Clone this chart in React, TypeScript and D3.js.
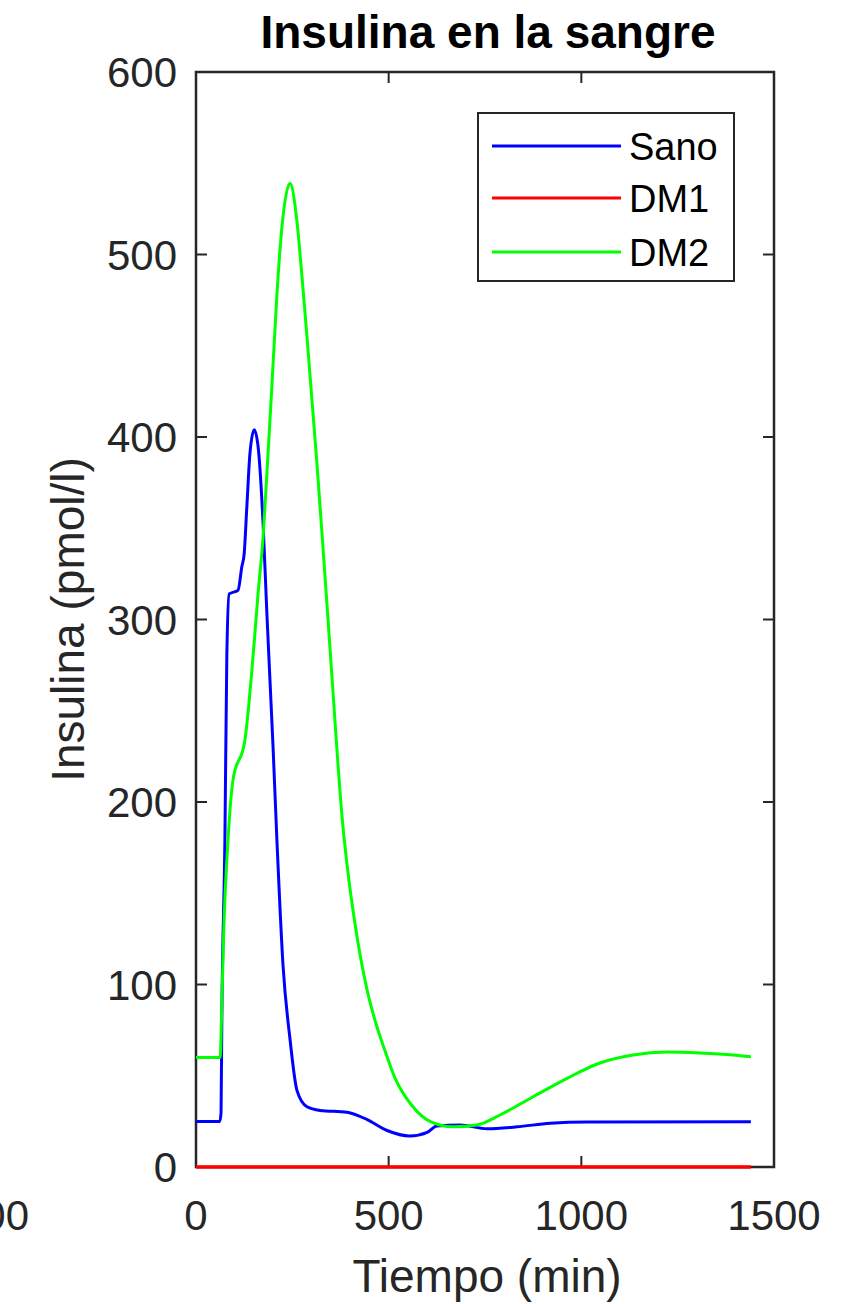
import React from "react";
import * as d3 from "d3";

const sanoT = [0, 62, 65, 67, 75, 80, 86, 109, 119, 125, 132, 140, 151, 161, 174, 184, 200, 210, 226, 244, 262, 288, 322, 392, 444, 496, 555, 600, 625, 685, 755, 833, 919, 1015, 1440];
const sanoV = [25, 25, 30, 80, 179, 280, 314, 316, 329, 336, 362, 391, 404, 395, 353, 303, 230, 179, 110, 70, 42, 33, 31, 30, 26, 20, 17, 19, 22.5, 23, 21, 22, 24, 24.7, 24.8];

const dm1T = [0, 1440];
const dm1V = [0, 0];

const dm2T = [0, 63, 66, 72, 83, 96, 127, 145, 161, 174, 184, 197, 210, 223, 244, 262, 275, 288, 301, 314, 327, 340, 353, 366, 379, 394, 410, 426, 444, 465, 490, 516, 563, 607, 667, 729, 789, 875, 963, 1048, 1134, 1222, 1308, 1394, 1440];
const dm2V = [60, 60, 80, 130, 179, 212, 234, 272, 314, 345, 380, 428, 478, 515, 539, 518, 488, 455, 420, 385, 347, 308, 268, 228, 192, 162, 137, 116, 97, 80, 64, 49, 33, 25, 22, 23, 28.5, 38.5, 48.6, 57, 61.4, 63, 62.5, 61.4, 60.4];

const xTicks = [0, 500, 1000, 1500];
const yTicks = [0, 100, 200, 300, 400, 500, 600];

const seriesNames = ["Sano", "DM1", "DM2"];
const seriesColors = ["#0000ff", "#ff0000", "#00ff00"];

const W = 846;
const H = 1304;
const L = 196, R = 774, T = 72, B = 1167;
const FONT = "'Liberation Sans', Arial, Helvetica, sans-serif";
const AX = "#262626";

export default function App() {
  const x = d3.scaleLinear().domain([0, 1500]).range([L, R]);
  const y = d3.scaleLinear().domain([0, 600]).range([B, T]);
  const line = d3
    .line<[number, number]>()
    .x((d) => x(d[0]))
    .y((d) => y(d[1]))
    .curve(d3.curveMonotoneX);

  const series = [
    { name: seriesNames[0], color: seriesColors[0], pts: sanoT.map((t, i) => [t, sanoV[i]] as [number, number]) },
    { name: seriesNames[1], color: seriesColors[1], pts: dm1T.map((t, i) => [t, dm1V[i]] as [number, number]) },
    { name: seriesNames[2], color: seriesColors[2], pts: dm2T.map((t, i) => [t, dm2V[i]] as [number, number]) },
  ];

  const tickLen = 11;
  const legX = 478, legY = 113, legW = 256, legH = 168;
  const legRows = [146, 198, 252];

  return (
    <svg width={W} height={H} style={{ position: "absolute", left: 0, top: 0, background: "#fff" }} fontFamily={FONT}>
      <rect x={0} y={0} width={W} height={H} fill="#fff" />
      {/* title */}
      <text x={488} y={48} textAnchor="middle" fontSize={46} fontWeight="bold" fill="#000">
        Insulina en la sangre
      </text>
      {/* cut-off label of neighbouring axis, as in the reference */}
      <text x={29} y={1230} textAnchor="end" fontSize={42} fill={AX}>1500</text>

      {/* ticks */}
      {xTicks.map((t) => (
        <g key={"x" + t}>
          <line x1={x(t)} x2={x(t)} y1={B} y2={B - tickLen} stroke={AX} strokeWidth={2} />
          <line x1={x(t)} x2={x(t)} y1={T} y2={T + tickLen} stroke={AX} strokeWidth={2} />
          <text x={x(t)} y={1230} textAnchor="middle" fontSize={42} fill={AX}>{t}</text>
        </g>
      ))}
      {yTicks.map((t) => (
        <g key={"y" + t}>
          <line x1={L} x2={L + tickLen} y1={y(t)} y2={y(t)} stroke={AX} strokeWidth={2} />
          <line x1={R} x2={R - tickLen} y1={y(t)} y2={y(t)} stroke={AX} strokeWidth={2} />
          <text x={177} y={y(t)} dy="0.36em" textAnchor="end" fontSize={42} fill={AX}>{t}</text>
        </g>
      ))}

      {/* frame */}
      <rect x={L} y={T} width={R - L} height={B - T} fill="none" stroke={AX} strokeWidth={2.5} />

      {/* series */}
      {series.map((s) => (
        <path key={s.name} d={line(s.pts) || ""} fill="none" stroke={s.color} strokeWidth={s.name === "DM1" ? 3.5 : 3} strokeLinejoin="round" />
      ))}

      {/* axis labels */}
      <text x={487} y={1292} textAnchor="middle" fontSize={46} fill={AX}>Tiempo (min)</text>
      <text transform={`translate(84,${(T + B) / 2}) rotate(-90)`} textAnchor="middle" fontSize={46} fill={AX}>
        Insulina (pmol/l)
      </text>

      {/* legend */}
      <rect x={legX} y={legY} width={legW} height={legH} fill="#fff" stroke={AX} strokeWidth={2} />
      {series.map((s, i) => (
        <g key={"leg" + s.name}>
          <line x1={492} x2={621} y1={legRows[i]} y2={legRows[i]} stroke={s.color} strokeWidth={3} />
          <text x={629} y={legRows[i]} dy="0.36em" fontSize={38} fill="#000">{s.name}</text>
        </g>
      ))}
    </svg>
  );
}
